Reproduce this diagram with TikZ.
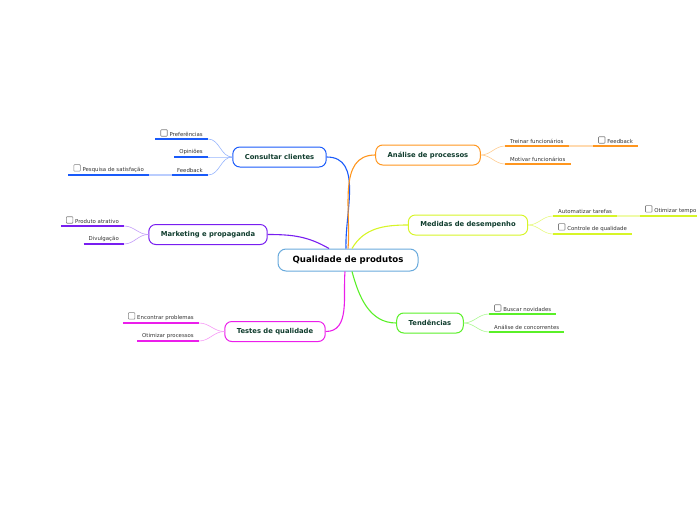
\documentclass[tikz,border=0pt]{standalone}
\usepackage{fontspec}
\setmainfont{DejaVu Sans}
\usetikzlibrary{positioning}

\definecolor{rootc}{RGB}{105,170,220}
\definecolor{topictxt}{RGB}{15,60,45}
\definecolor{bluec}{RGB}{25,90,250}
\definecolor{purplec}{RGB}{120,30,240}
\definecolor{magentac}{RGB}{235,30,235}
\definecolor{orangec}{RGB}{255,150,30}
\definecolor{limec}{RGB}{215,245,40}
\definecolor{greenc}{RGB}{90,240,40}

% small check box in front of some leaves
\newcommand{\chk}{\tikz[baseline=-0.5pt]\draw[black!50, rounded corners=0.7pt, line width=0.6pt] (0pt,0pt) rectangle (6.5pt,6.5pt);\hspace{2pt}}

\begin{document}
\begin{tikzpicture}[
    x=1pt, y=-1pt,
    root/.style={draw=rootc, line width=1pt, rounded corners=8pt, fill=white,
        minimum width=140pt, minimum height=22pt, font=\fontsize{8.6}{10}\selectfont\bfseries},
    topic/.style={draw=#1, line width=1pt, rounded corners=7pt, fill=white,
        minimum height=20pt, inner xsep=12pt, text=topictxt,
        font=\fontsize{6.8}{8}\selectfont\bfseries},
    leaf/.style={inner xsep=5pt, inner ysep=2pt, text=black!80,
        font=\fontsize{5.4}{6}\selectfont,
        append after command={(\tikzlastnode.south west) edge[draw=#1, line width=1.4pt] (\tikzlastnode.south east)}},
    trunk/.style={draw=#1, line width=1.1pt},
    twig/.style={draw=#1, line width=0.6pt},
]
\useasboundingbox (0,0) rectangle (697,520);

% ---- central topic ----
\node[root] (root) at (348,260) {Qualidade de produtos};

% ---- main topics ----
\node[topic=bluec]    (cons)  at (279.5,157) {Consultar clientes};
\node[topic=purplec]  (mkt)   at (208,234.5) {Marketing e propaganda};
\node[topic=magentac] (test)  at (275,331.5) {Testes de qualidade};
\node[topic=orangec]  (anal)  at (428,155)   {Análise de processos};
\node[topic=limec]    (med)   at (468,225)   {Medidas de desempenho};
\node[topic=greenc]   (tend)  at (430,323)   {Tendências};

\draw[trunk=bluec]    ([xshift=-2pt]root.north) to[out=92, in=0]  (cons.east);
\draw[trunk=orangec]  ([xshift=0pt]root.north)  to[out=85, in=180] (anal.west);
\draw[trunk=purplec]  ([xshift=-19pt]root.north) to[out=150, in=0] (mkt.east);
\draw[trunk=limec]    ([xshift=4pt]root.north)  to[out=60, in=180] (med.west);
\draw[trunk=greenc]   ([xshift=4pt]root.south)  to[out=-75, in=180] (tend.west);
\draw[trunk=magentac] ([xshift=-3pt]root.south) to[out=-95, in=0]  (test.east);

% ---- Consultar clientes ----
\node[leaf=bluec, anchor=south east] (pref) at (208,139) {\chk Preferências};
\node[leaf=bluec, anchor=south east] (opin) at (208,157) {Opiniões};
\node[leaf=bluec, anchor=south east] (feed) at (208,175) {Feedback};
\node[leaf=bluec, anchor=south east] (pesq) at (149,175) {\chk Pesquisa de satisfação};
\foreach \n in {pref, opin, feed}
    \draw[twig=bluec!45] (cons.west) to[out=180, in=0] (\n.south east);
\draw[twig=bluec!30, line width=1.4pt] (feed.south west) -- (pesq.south east);

% ---- Marketing e propaganda ----
\node[leaf=purplec, anchor=south east] (prod)  at (124,226) {\chk Produto atrativo};
\node[leaf=purplec, anchor=south east] (divul) at (124,244) {Divulgação};
\foreach \n in {prod, divul}
    \draw[twig=purplec!45] (mkt.west) to[out=180, in=0] (\n.south east);

% ---- Testes de qualidade ----
\node[leaf=magentac, anchor=south east] (encon) at (199,323) {\chk Encontrar problemas};
\node[leaf=magentac, anchor=south east] (otimp) at (199,341) {Otimizar processos};
\foreach \n in {encon, otimp}
    \draw[twig=magentac!45] (test.west) to[out=180, in=0] (\n.south east);

% ---- Análise de processos ----
\node[leaf=orangec, anchor=south west] (trein) at (505,146) {Treinar funcionários};
\node[leaf=orangec, anchor=south west] (feedb) at (593,146) {\chk Feedback};
\node[leaf=orangec, anchor=south west] (motiv) at (505,164) {Motivar funcionários};
\foreach \n in {trein, motiv}
    \draw[twig=orangec!50] (anal.east) to[out=0, in=180] (\n.south west);
\draw[twig=orangec!35, line width=1.4pt] (trein.south east) -- (feedb.south west);

% ---- Medidas de desempenho ----
\node[leaf=limec, anchor=south west] (autom) at (553,216) {Automatizar tarefas};
\node[leaf=limec, anchor=south west] (otimt) at (640,216) {\chk Otimizar tempo};
\node[leaf=limec, anchor=south west] (contr) at (553,234) {\chk Controle de qualidade};
\foreach \n in {autom, contr}
    \draw[twig=limec!60] (med.east) to[out=0, in=180] (\n.south west);
\draw[twig=limec!40, line width=1.4pt] (autom.south east) -- (otimt.south west);

% ---- Tendências ----
\node[leaf=greenc, anchor=south west] (busca) at (489,314) {\chk Buscar novidades};
\node[leaf=greenc, anchor=south west] (concor) at (489,332) {Análise de concorrentes};
\foreach \n in {busca, concor}
    \draw[twig=greenc!50] (tend.east) to[out=0, in=180] (\n.south west);

\end{tikzpicture}
\end{document}
